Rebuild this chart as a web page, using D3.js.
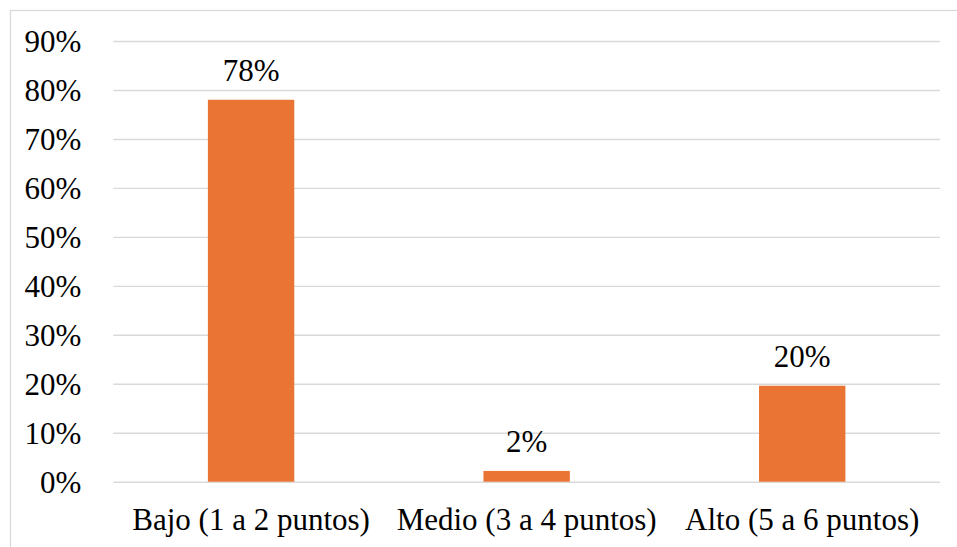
<!DOCTYPE html>
<html>
<head>
<meta charset="utf-8">
<script src="https://cdn.jsdelivr.net/npm/d3@7"></script>
</head>
<body style="margin:0">
<script>
// data
const categories = ["Bajo (1 a 2 puntos)", "Medio (3 a 4 puntos)", "Alto (5 a 6 puntos)"];
const values = [78, 2.2, 19.6];
const valueLabels = ["78%", "2%", "20%"];
const yTicks = [0, 10, 20, 30, 40, 50, 60, 70, 80, 90];

const W = 957, H = 547;
const FONT = '"Liberation Serif", "Times New Roman", Tinos, serif';
const margin = {top: 41, right: 17, bottom: 65.3, left: 113.3},
  width = W - margin.left - margin.right,
  height = H - margin.top - margin.bottom;

const root = d3.select("body")
  .append("svg")
    .attr("width", W)
    .attr("height", H)
    .style("font-family", FONT, "important");

// outer chart frame, it runs off the right and bottom edges
root.append("rect")
  .attr("x", 10.5).attr("y", 10.5)
  .attr("width", 1000).attr("height", 600)
  .attr("fill", "none")
  .attr("stroke", "#d9d9d9")
  .attr("stroke-width", 1.3);

const svg = root.append("g")
  .attr("transform", `translate(${margin.left},${margin.top})`);

const y = d3.scaleLinear().domain([0, 90]).range([height, 0]);
const x = d3.scaleBand().domain(categories).range([0, width]).padding(0);
// gap width ~219%
const barW = x.bandwidth() / 3.19;

const yAxis = svg.append("g")
  .call(d3.axisLeft(y).tickValues(yTicks).tickFormat(d => d + "%").tickSize(-width).tickPadding(32));
yAxis.select(".domain").remove();
yAxis.selectAll(".tick line").attr("stroke", "#d9d9d9").attr("stroke-width", 1.4);
yAxis.selectAll(".tick text").attr("dy", "0.34em");

svg.selectAll("rect.bar")
  .data(values)
  .join("rect")
    .attr("class", "bar")
    .attr("x", (d, i) => x(categories[i]) + x.bandwidth() / 2 - barW / 2)
    .attr("y", d => y(d))
    .attr("width", barW)
    .attr("height", d => height - y(d))
    .attr("fill", "#EA7434");

svg.selectAll("text.val")
  .data(values)
  .join("text")
    .attr("class", "val")
    .attr("x", (d, i) => x(categories[i]) + x.bandwidth() / 2)
    .attr("y", d => y(d) - 18.5)
    .attr("text-anchor", "middle")
    .text((d, i) => valueLabels[i]);

const xAxis = svg.append("g")
  .attr("transform", `translate(0, ${height})`)
  .call(d3.axisBottom(x).tickSize(0).tickPadding(26));
xAxis.select(".domain").remove();

svg.selectAll("g").attr("font-family", null);
root.selectAll("text")
  .attr("font-family", null)
  .style("font-family", FONT, "important")
  .style("font-size", "31px")
  .attr("fill", "#000");
</script>
</body>
</html>
